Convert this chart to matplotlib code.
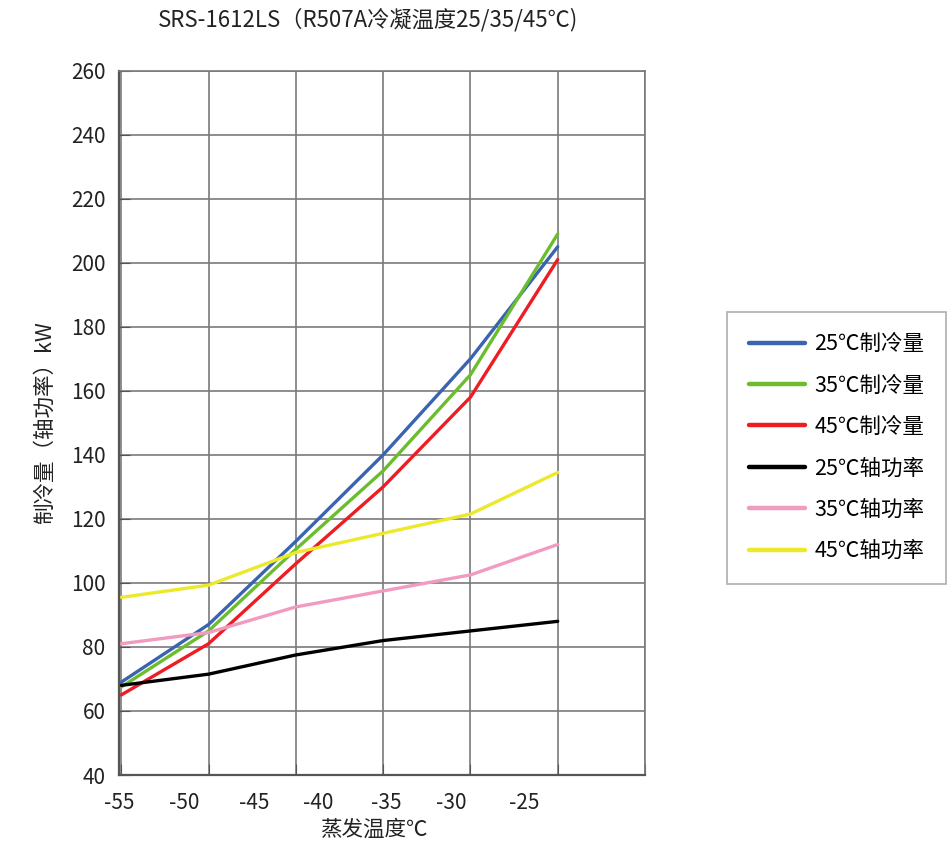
import numpy as np
import matplotlib
matplotlib.use("Agg")
import matplotlib.pyplot as plt

# ==============================
# Data
# ==============================

EVAP_TEMPS = [-55, -50, -45, -40, -35, -30]

COOL_25 = [69, 87, 113, 140, 170, 205]
COOL_35 = [67.5, 85, 110.5, 135, 165, 209]
COOL_45 = [65, 81, 106, 130, 158, 201]
POWER_25 = [68, 71.5, 77.5, 82, 85, 88]
POWER_35 = [81, 84.5, 92.5, 97.5, 102.5, 112]
POWER_45 = [95.5, 99.3, 109.5, 115.5, 121.5, 134.5]

SERIES_LABELS = ["25℃制冷量", "35℃制冷量", "45℃制冷量",
                 "25℃轴功率", "35℃轴功率", "45℃轴功率"]
SERIES_COLORS = ["#3a64b0", "#6cbd2d", "#ee1d23", "#000000", "#f29bc1", "#ece92b"]

XTICK_LABELS = ["-55", "-50", "-45", "-40", "-35", "-30", "-25"]
# the labels in the source image sit off the grid, keep that
XTICK_LABEL_POS = [-55.1, -51.4, -47.4, -43.7, -39.8, -36.1, -31.9]
XGRID = [-55, -50, -45, -40, -35, -30, -25]
YTICKS = [40, 60, 80, 100, 120, 140, 160, 180, 200, 220, 240, 260]

TITLE = "SRS-1612LS（R507A冷凝温度25/35/45℃)"
XLABEL = "蒸发温度℃"
YLABEL = "制冷量（轴功率）kW"

plt.rcParams["font.family"] = ["Noto Sans CJK SC", "DejaVu Sans"]

W, H = 953, 849
fig = plt.figure(figsize=(W / 100, H / 100), dpi=100)
left, right, top, bottom = 119.5, 645, 70.7, 775
ax = fig.add_axes([left / W, 1 - bottom / H, (right - left) / W, (bottom - top) / H])

series = [COOL_25, COOL_35, COOL_45, POWER_25, POWER_35, POWER_45]
for vals, lab, col in zip(series, SERIES_LABELS, SERIES_COLORS):
    ax.plot(EVAP_TEMPS, vals, color=col, lw=2.4, label=lab, solid_capstyle="round")

ax.set_xlim(-55, -25)
ax.set_ylim(40, 260)

ax.set_xticks(XGRID)
ax.set_xticklabels([""] * len(XGRID))
ax.set_xticks(XTICK_LABEL_POS, minor=True)
ax.set_xticklabels(XTICK_LABELS, minor=True, fontsize=15, color="#222222")
ax.tick_params(axis="x", which="minor", length=0, pad=12)
ax.tick_params(axis="x", which="major", direction="in", length=8, color="#555555")

ax.set_yticks(YTICKS)
ax.set_yticklabels([str(v) for v in YTICKS], fontsize=15, color="#222222")
ax.tick_params(axis="y", direction="in", length=8, pad=10, color="#555555")

ax.grid(True, which="major", color="#7a7a7a", lw=1.2)
ax.set_axisbelow(True)
for side in ["top", "right"]:
    ax.spines[side].set_color("#7a7a7a")
    ax.spines[side].set_linewidth(1.2)
for side in ["left", "bottom"]:
    ax.spines[side].set_color("#555555")
    ax.spines[side].set_linewidth(1.6)

ax.set_xlabel(XLABEL, fontsize=15.5, color="#222222")
ax.xaxis.set_label_coords((374 - left) / (right - left), -0.062)
ax.set_ylabel(YLABEL, fontsize=15.5, color="#222222")
ax.yaxis.set_label_coords(-(left - 56) / (right - left), 0.5)

fig.text(368 / W, 1 - 20 / H, TITLE, ha="center", va="center",
         fontsize=16, color="#222222")

leg = ax.legend(loc="upper left", bbox_to_anchor=(727 / W, 1 - 311.7 / H),
                bbox_transform=fig.transFigure, fontsize=15.5, frameon=True,
                fancybox=False, edgecolor="#999999", handlelength=2.6,
                handletextpad=0.45, labelspacing=0.9, borderpad=1.0,
                borderaxespad=0)
leg.get_frame().set_linewidth(1.2)
for line in leg.get_lines():
    line.set_linewidth(3.2)

fig.savefig("out.png", dpi=100)
